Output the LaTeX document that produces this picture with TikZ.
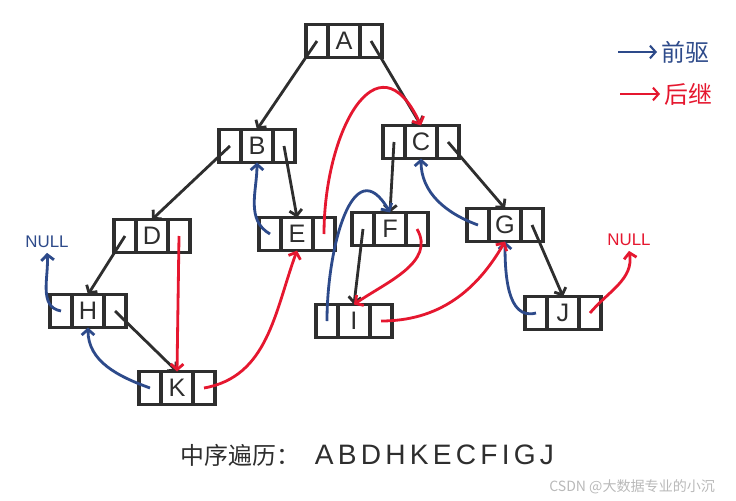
\documentclass[tikz,border=0pt]{standalone}
\usepackage{fontspec}
\setmainfont{Liberation Sans}
\newfontfamily\cjk{Noto Sans CJK SC}
\newfontfamily\seqfont[LetterSpace=15]{Liberation Sans}
\usetikzlibrary{positioning,arrows.meta}
\definecolor{ink}{HTML}{2E2E2E}
\definecolor{predblue}{HTML}{2D4A8A}
\definecolor{succred}{HTML}{E5172F}
\tikzset{
  cell/.style={draw=ink, line width=2.3pt, minimum height=0.825cm, inner sep=0pt, outer sep=0pt,
    text=ink, font=\fontsize{18}{18}\selectfont},
  mid/.style={cell, minimum width=0.8cm},
  side/.style={cell, minimum width=0.55cm},
  barb/.style={-{Straight Barb[length=4pt,width=9pt]}},
  child/.style={draw=ink, line width=2pt, barb},
  pred/.style={draw=predblue, line width=2pt, barb},
  succ/.style={draw=succred, line width=2pt, barb},
}

\begin{document}
\begin{tikzpicture}[x=0.025cm,y=-0.025cm]
            \useasboundingbox (0,0) rectangle (736,500);
            % tree nodes: left thread | data | right thread
            \node[mid] (A) at (344,41) {A};
            \node[side,left=0pt of A] (A-l) {};
            \node[side,right=0pt of A] (A-r) {};
            \node[mid] (B) at (257,146) {B};
            \node[side,left=0pt of B] (B-l) {};
            \node[side,right=0pt of B] (B-r) {};
            \node[mid] (C) at (421,142) {C};
            \node[side,left=0pt of C] (C-l) {};
            \node[side,right=0pt of C] (C-r) {};
            \node[mid] (D) at (152,236) {D};
            \node[side,left=0pt of D] (D-l) {};
            \node[side,right=0pt of D] (D-r) {};
            \node[mid] (E) at (297,234) {E};
            \node[side,left=0pt of E] (E-l) {};
            \node[side,right=0pt of E] (E-r) {};
            \node[mid] (F) at (390,229) {F};
            \node[side,left=0pt of F] (F-l) {};
            \node[side,right=0pt of F] (F-r) {};
            \node[mid] (G) at (505,225) {G};
            \node[side,left=0pt of G] (G-l) {};
            \node[side,right=0pt of G] (G-r) {};
            \node[mid] (H) at (88,311) {H};
            \node[side,left=0pt of H] (H-l) {};
            \node[side,right=0pt of H] (H-r) {};
            \node[mid] (K) at (177,388) {K};
            \node[side,left=0pt of K] (K-l) {};
            \node[side,right=0pt of K] (K-r) {};
            \node[mid] (I) at (354,321) {I};
            \node[side,left=0pt of I] (I-l) {};
            \node[side,right=0pt of I] (I-r) {};
            \node[mid] (J) at (563,313) {J};
            \node[side,left=0pt of J] (J-l) {};
            \node[side,right=0pt of J] (J-r) {};
            \node[font=\fontsize{12}{12}\selectfont, text=predblue] (nullL) at (47,242) {NULL};
            \node[font=\fontsize{12}{12}\selectfont, text=succred] (nullR) at (629,240) {NULL};
            % children
            \draw[child] (A-l.center) -- (B.north);
            \draw[child] (A-r.center) -- (C.north);
            \draw[child] (B-l.center) -- (D.north);
            \draw[child] (B-r.center) -- (E.north);
            \draw[child] (C-l.center) -- (F.north);
            \draw[child] (C-r.center) -- (G.north);
            \draw[child] (D-l.center) -- (H.north);
            \draw[child] (H-r.center) -- (K.north);
            \draw[child] (F-l.center) -- (I.north);
            \draw[child] (G-r.center) -- (J.north);
            % predecessor threads
            \draw[pred] (H-l.center) to[out=170,in=-85] (nullL.south);
            \draw[pred] (K-l.center) to[out=160,in=-90] (H.south);
            \draw[pred] (E-l.center) to[out=150,in=-90] (B.south);
            \draw[pred] (I-l.center) to[out=90,in=120,looseness=1.5] (F.north);
            \draw[pred] (G-l.center) to[out=160,in=-90] (C.south);
            \draw[pred] (J-l.center) to[out=195,in=-90] (G.south);
            % successor threads
            \draw[succ] (D-r.center) -- (K.north);
            \draw[succ] (K-r.center) to[out=10,in=-110] (E.south);
            \draw[succ] (E-r.center) to[out=90,in=115,looseness=1.8] (C.north);
            \draw[succ] (F-r.center) to[out=-60,in=35] (I.north);
            \draw[succ] (I-r.center) to[out=0,in=-120] (G.south);
            \draw[succ] (J-r.center) to[out=50,in=-80] (nullR.south);
            % legend
            \node[font=\cjk\fontsize{17}{17}\selectfont, text=predblue, anchor=west] (pre) at (657,52) {前驱};
            \coordinate (pre-s) at (618,52);
            \draw[pred, line width=1.5pt] (pre-s) -- (pre.west);
            \node[font=\cjk\fontsize{17}{17}\selectfont, text=succred, anchor=west] (post) at (660,94) {后继};
            \coordinate (post-s) at (620,94);
            \draw[succ, line width=1.5pt] (post-s) -- (post.west);
            % traversal
            \node[font=\cjk\fontsize{17}{17}\selectfont, text=ink, anchor=west] (order) at (176,455) {中序遍历：};
            \node[font=\seqfont\fontsize{20}{20}\selectfont, text=ink, anchor=west] (seq) at (310,455) {ABDHKECFIGJ};
            \node[font=\cjk\fontsize{10}{10}\selectfont, text=gray!55, anchor=east] (mark) at (720,487) {CSDN @大数据专业的小沉};
        \end{tikzpicture}
\end{document}
